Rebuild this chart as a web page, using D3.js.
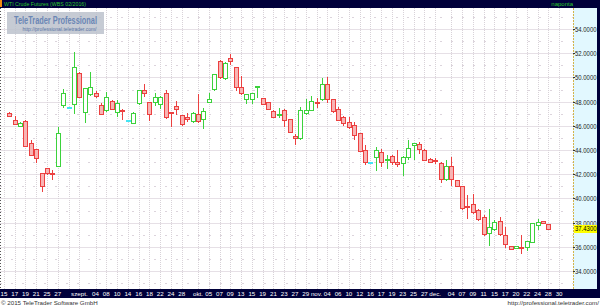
<!DOCTYPE html>
<html>
<head>
<meta charset="utf-8">
<script src="https://cdn.jsdelivr.net/npm/d3@7"></script>
<style>
html, body { margin: 0; padding: 0; background: #fff; }
svg { display: block; font-family: "Liberation Sans", Arial, sans-serif; }
</style>
</head>
<body>
<svg id="chart" width="600" height="306"></svg>
<script>
// daily OHLC, WTI Crude Futures (WBS 02/2016), mid Aug - end Dec 2015
const opens = [47.03,46.48,46.01,46.42,44.55,44.06,42.07,42.49,42.10,42.70,
    47.72,47.50,47.77,50.34,47.11,48.60,48.68,47.72,47.31,48.05,
    47.17,47.33,46.37,46.26,47.86,48.96,47.99,47.99,47.77,48.74,
    47.10,47.64,46.87,46.75,46.40,46.98,46.56,47.99,49.04,51.38,
    49.92,51.58,50.89,49.23,48.19,48.19,49.22,48.27,47.99,47.25,
    46.87,47.33,46.53,45.16,44.96,47.03,47.31,47.96,48.19,49.43,
    48.19,47.36,46.70,46.34,46.07,45.38,44.00,42.95,43.39,43.83,
    43.20,43.50,43.04,42.95,43.45,44.39,44.47,44.00,43.23,43.20,
    42.95,41.58,42.70,41.52,41.02,39.40,39.54,39.04,38.44,37.17,
    37.44,38.16,36.98,36.07,35.90,36.01,36.01,36.42,37.80,38.13,
    37.88];
const highs = [47.15,46.84,46.28,46.45,44.83,44.10,42.10,42.50,42.35,45.87,
    49.04,47.50,52.13,50.47,49.15,50.47,48.88,47.86,48.77,48.13,
    48.15,47.35,46.37,47.10,49.00,49.45,48.00,48.68,48.45,48.96,
    47.10,48.05,46.90,47.03,47.10,48.63,47.44,48.68,50.30,51.40,
    51.25,51.91,50.90,50.12,48.65,48.70,49.32,48.30,48.00,47.28,
    47.44,47.38,46.55,45.32,47.58,48.19,48.46,48.27,49.92,50.01,
    48.20,47.58,46.80,46.75,46.34,45.40,44.41,42.95,44.22,44.05,
    43.59,43.60,44.00,43.50,44.83,44.60,44.69,44.05,43.30,43.31,
    43.00,43.17,43.39,41.55,41.05,40.28,40.36,39.10,38.60,39.10,
    38.20,38.49,37.61,36.10,36.10,36.98,36.50,37.96,38.27,38.15,
    37.90];
const lows = [46.80,46.15,46.00,44.30,43.55,43.04,40.64,42.05,41.58,42.70,
    47.58,47.50,47.03,48.40,46.34,48.55,48.41,46.95,47.25,47.35,
    46.84,46.56,46.37,46.26,47.80,48.49,46.48,47.72,47.44,46.62,
    45.98,46.98,46.10,46.40,46.35,46.35,45.79,47.95,48.96,49.95,
    49.90,51.08,48.96,48.65,47.91,47.85,48.35,47.78,47.35,46.70,
    46.70,45.98,45.50,44.50,44.95,47.00,47.30,47.58,48.15,47.99,
    47.10,46.45,46.10,45.80,44.91,43.90,42.84,42.95,42.35,42.68,
    42.49,42.84,42.68,41.93,43.26,43.23,43.72,43.15,42.98,42.90,
    41.38,41.55,41.11,41.00,39.10,38.35,38.77,38.20,36.98,36.15,
    37.40,37.00,35.96,35.80,35.88,35.46,35.74,36.40,37.44,37.97,
    37.43];
const closes = [46.85,46.18,46.24,44.33,43.60,43.31,41.02,42.13,42.05,45.43,
    48.68,47.50,50.89,48.41,49.10,49.23,48.50,46.98,48.41,47.36,
    47.86,47.30,46.37,47.08,48.96,48.68,46.98,48.35,48.41,46.75,
    47.06,47.36,46.12,46.56,47.03,46.37,47.25,48.19,50.28,50.01,
    51.22,51.38,49.23,48.68,48.60,48.68,49.29,47.80,47.39,46.75,
    46.95,46.45,45.51,44.96,47.31,47.31,48.08,47.92,49.43,48.19,
    47.25,46.48,46.20,45.93,45.24,43.94,43.04,42.95,44.00,43.04,
    43.26,43.04,42.82,43.45,44.14,44.55,44.06,43.20,43.01,43.05,
    41.58,42.70,41.58,41.02,39.23,39.34,38.90,38.27,37.06,37.61,
    38.08,37.06,36.23,35.82,36.07,35.92,36.48,37.94,38.08,37.99,
    37.47];

// x axis: candle position of each date label ('' = grid line only)
const xTickPos = [-1,1,3,5,7,9,11,13,16,18,20,22,24,26,28,30,32,35,37,39,41,43,45,47,49,51,53,
    55,57,59,61,63,65,67,69,71,73,75,77,79,82,84,86,88,90,92,94,96,98,100,102];
const xTickLabels = ['15','17','19','21','25','27','','szept.','04','08','10','14','16','18','22','24','28',
    'okt.','05','07','09','13','15','19','21','23','27','29','nov.','04','06','10','12','16','17','19',
    '23','25','27','dec.','04','07','09','11','15','17','20','22','24','28','30'];
const yTicks = [34,36,38,40,42,44,46,48,50,52,54];
const lastPrice = 37.43;

const navy = '#00003a';
const svg = d3.select('#chart');
const plot = { left: 0, right: 573, top: 8, bottom: 289 };

const x = d3.scaleLinear().domain([0, opens.length - 1]).range([9.3, 548.3]);
const y = d3.scaleLinear().domain([34, 54]).range([271, 29]);

// right price panel
svg.append('rect').attr('x', plot.right).attr('y', plot.top)
    .attr('width', 24).attr('height', plot.bottom - plot.top).attr('fill', '#e2f8ff');

// grid
const grid = svg.append('g');
d3.range(33, 56).forEach(v => {
    const yy = Math.round(y(v)) + 0.5;
    grid.append('line').attr('x1', plot.left).attr('x2', plot.right)
        .attr('y1', yy).attr('y2', yy)
        .attr('stroke', v % 2 === 0 ? '#e6e0e6' : '#dcd4dc')
        .attr('stroke-dasharray', v % 2 === 0 ? null : '2,9');
});
xTickPos.forEach(p => {
    const xx = Math.round(x(p)) + 0.5;
    grid.append('line').attr('x1', xx).attr('x2', xx)
        .attr('y1', plot.top).attr('y2', plot.bottom)
        .attr('stroke', '#d8d2d8').attr('stroke-dasharray', '1,1');
});
svg.append('line').attr('x1', 0.5).attr('x2', 0.5).attr('y1', plot.top).attr('y2', plot.bottom)
    .attr('stroke', '#555').attr('stroke-dasharray', '1,2');

// watermark
svg.append('rect').attr('x', 7).attr('y', 12).attr('width', 97).attr('height', 22)
    .attr('fill', '#bcc2cc').attr('opacity', 0.85);
svg.append('text').attr('x', 14).attr('y', 23.5).attr('font-size', 10).attr('font-weight', 'bold')
    .attr('fill', '#6a86b4').attr('textLength', 83).attr('lengthAdjust', 'spacingAndGlyphs')
    .text('TeleTrader Professional');
svg.append('text').attr('x', 22.5).attr('y', 30.5).attr('font-size', 6.2)
    .attr('fill', '#5a76a6').attr('textLength', 74).attr('lengthAdjust', 'spacingAndGlyphs')
    .text('http://professional.teletrader.com/');

// candles
const candles = svg.append('g');
opens.forEach((o, i) => {
    const h = highs[i], l = lows[i], c = closes[i];
    const cx = Math.round(x(i));
    if (o === c && h === l) {
        candles.append('rect').attr('x', cx - 2).attr('y', Math.round(y(c)) - 1)
            .attr('width', 5).attr('height', 2).attr('fill', '#44e4f4');
        return;
    }
    const up = c >= o;
    const stroke = up ? '#3cd23c' : '#ec4040';
    const fill = up ? '#ffffff' : '#f8b4b4';
    candles.append('line').attr('x1', cx + 0.5).attr('x2', cx + 0.5)
        .attr('y1', Math.round(y(h))).attr('y2', Math.round(y(l)) + 1)
        .attr('stroke', stroke);
    const top = Math.round(y(Math.max(o, c)));
    const bot = Math.round(y(Math.min(o, c)));
    candles.append('rect').attr('x', cx - 1.5).attr('y', top + 0.5)
        .attr('width', 4).attr('height', Math.max(bot - top, 1))
        .attr('fill', fill).attr('stroke', stroke);
});

// right axis
svg.append('line').attr('x1', plot.right + 0.5).attr('x2', plot.right + 0.5)
    .attr('y1', plot.top).attr('y2', plot.bottom)
    .attr('stroke', '#d4b44a').attr('stroke-dasharray', '2,1');
yTicks.forEach(v => {
    const yy = Math.round(y(v)) + 0.5;
    svg.append('line').attr('x1', plot.right).attr('x2', plot.right + 2)
        .attr('y1', yy).attr('y2', yy).attr('stroke', '#333');
    svg.append('text').attr('x', plot.right + 2).attr('y', yy + 2.3)
        .attr('font-size', 6.4).attr('fill', '#1c1c1c')
        .attr('textLength', 21.5).attr('lengthAdjust', 'spacingAndGlyphs')
        .text(v.toFixed(4));
});
const ly = Math.round(y(lastPrice));
svg.append('rect').attr('x', plot.right + 1).attr('y', ly - 4).attr('width', 23).attr('height', 8)
    .attr('fill', '#ffff00');
svg.append('text').attr('x', plot.right + 2).attr('y', ly + 2.3)
    .attr('font-size', 6.4).attr('fill', '#000')
    .attr('textLength', 21.5).attr('lengthAdjust', 'spacingAndGlyphs')
    .text(lastPrice.toFixed(4));

// frame bars
svg.append('rect').attr('x', 0).attr('y', 0).attr('width', 600).attr('height', plot.top).attr('fill', navy);
svg.append('rect').attr('x', 0).attr('y', 0).attr('width', 2).attr('height', 7).attr('fill', '#f08a10');
svg.append('rect').attr('x', 597).attr('y', 0).attr('width', 3).attr('height', 298).attr('fill', navy);
svg.append('rect').attr('x', 0).attr('y', plot.bottom).attr('width', 600).attr('height', 9).attr('fill', navy);

svg.append('text').attr('x', 4).attr('y', 6.3).attr('font-size', 6).attr('fill', '#2cc82c')
    .attr('textLength', 82).attr('lengthAdjust', 'spacingAndGlyphs')
    .text('WTI Crude Futures (WBS 02/2016)');
svg.append('text').attr('x', 573).attr('y', 6.3).attr('font-size', 6).attr('fill', '#2cc82c')
    .attr('text-anchor', 'end').text('naponta');

// x axis labels
xTickPos.forEach((p, i) => {
    if (!xTickLabels[i]) return;
    svg.append('text').attr('x', x(p)).attr('y', 296).attr('font-size', 6.2)
        .attr('fill', '#fff').attr('text-anchor', 'middle').text(xTickLabels[i]);
});

// footer
svg.append('text').attr('x', 1).attr('y', 305).attr('font-size', 6.2).attr('fill', '#333')
    .text('\u00a9 2015 TeleTrader Software GmbH');
svg.append('text').attr('x', 599).attr('y', 305).attr('font-size', 6.2).attr('fill', '#333')
    .attr('text-anchor', 'end').text('http://professional.teletrader.com/');
</script>
</body>
</html>
